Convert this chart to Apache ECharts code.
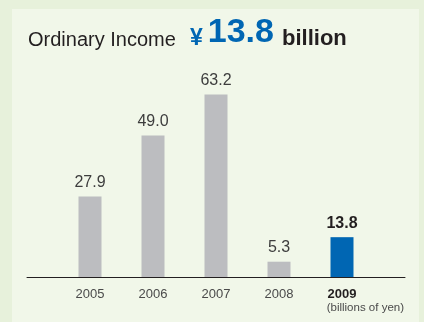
<!DOCTYPE html>
<html>
<head>
<meta charset="utf-8">
<script src="https://cdn.jsdelivr.net/npm/echarts@6/dist/echarts.min.js"></script>
<style>
  html, body { margin: 0; padding: 0; background: #e7f1db; }
  #chart { width: 424px; height: 322px; }
</style>
</head>
<body>
<div id="chart"></div>
<script>
// Ordinary income by fiscal year (billions of yen)
const years = ['2005', '2006', '2007', '2008', '2009'];
const income = [27.9, 49.0, 63.2, 5.3, 13.8];
const highlightYear = '2009';
const unitNote = '(billions of yen)';

const FONT = '"Liberation Sans", Arial, Helvetica, sans-serif';
const GREY_BAR = '#bcbdc0';
const BLUE = '#0066b3';
const INK = '#231f20';

// empty slots at both ends so the baseline runs past the outer bars
const axisCats = [''].concat(years, ['']);
const barData = [null].concat(years.map((y, i) => {
  const hl = y === highlightYear;
  return {
    value: income[i],
    itemStyle: { color: hl ? BLUE : GREY_BAR },
    label: hl ? { fontWeight: 'bold', color: INK } : {}
  };
}), [null]);

const chart = echarts.init(document.getElementById('chart'), null, { renderer: 'canvas' });
chart.setOption({
  backgroundColor: '#e7f1db',
  animation: false,
  graphic: [
    {
      type: 'rect', z: -10, silent: true,
      shape: { x: 12, y: 9, width: 407, height: 320 },
      style: { fill: '#f1f7e9' }
    },
    {
      type: 'text', z: 10,
      right: 20, top: 302,
      style: { text: unitNote, font: '11.5px ' + FONT, fill: '#4a4a4a', textAlign: 'right' }
    }
  ],
  title: {
    left: 23, top: 11,
    text: '{a|Ordinary Income  }{y|¥}{n|13.8}{b| billion}',
    textStyle: {
      fontWeight: 'normal',
      rich: {
        a: { fontFamily: FONT, fontSize: 20, fontWeight: 'normal', color: INK, verticalAlign: 'bottom' },
        y: { fontFamily: FONT, fontSize: 23, fontWeight: 'bold', color: BLUE, verticalAlign: 'bottom', padding: [0, 5, 0, 3] },
        n: { fontFamily: FONT, fontSize: 34, fontWeight: 'bold', color: BLUE, verticalAlign: 'bottom' },
        b: { fontFamily: FONT, fontSize: 22, fontWeight: 'bold', color: INK, verticalAlign: 'bottom', padding: [0, 0, 0, 2] }
      }
    }
  },
  grid: { left: 27, right: 19, top: 75, bottom: 45 },
  xAxis: {
    type: 'category',
    data: axisCats,
    boundaryGap: false,
    axisLine: { lineStyle: { color: INK, width: 1 } },
    axisTick: { show: false },
    axisLabel: {
      interval: 0,
      margin: 11,
      fontFamily: FONT, fontSize: 13, color: '#4a4a4a',
      formatter: v => v === highlightYear ? '{h|' + v + '}' : v,
      rich: { h: { fontFamily: FONT, fontSize: 13, fontWeight: 'bold', color: INK } }
    }
  },
  yAxis: {
    type: 'value', min: 0, max: 70,
    show: false, splitLine: { show: false }
  },
  series: [{
    type: 'bar',
    barWidth: 23,
    data: barData,
    label: {
      show: true, position: 'top', distance: 6,
      fontFamily: FONT, fontSize: 16, color: '#3d3d3d',
      formatter: p => p.value.toFixed(1)
    }
  }]
});
</script>
</body>
</html>
